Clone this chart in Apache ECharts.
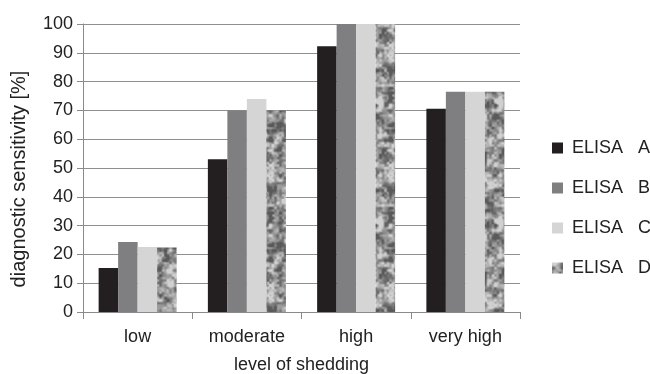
<!DOCTYPE html>
<html><head><meta charset="utf-8">
<script src="https://cdn.jsdelivr.net/npm/echarts@6/dist/echarts.min.js"></script>
<style>html,body{margin:0;padding:0;background:#fff}#c{width:650px;height:374px}</style>
</head><body><div id="c"></div>
<script>
const categories = ['low', 'moderate', 'high', 'very high'];
const seriesNames = ['ELISA   A', 'ELISA   B', 'ELISA   C', 'ELISA   D'];
const elisaA = [15.3, 53, 92.3, 70.6];
const elisaB = [24.3, 70, 100, 76.5];
const elisaC = [22.6, 74, 100, 76.5];
const elisaD = [22.4, 70, 100, 76.5];
const yTicks = [0, 10, 20, 30, 40, 50, 60, 70, 80, 90, 100];

// deterministic mottled grey texture for ELISA D (styling only)
function makeTexture() {
  const N = 120;
  const mkHash = (G, a, b, m) => (i, j) => {
    i = ((i % G) + G) % G; j = ((j % G) + G) % G;
    const s = Math.sin(i * a + j * b) * m;
    return s - Math.floor(s);
  };
  const noise = (x, y, c, hf) => {
    const i = Math.floor(x / c), j = Math.floor(y / c);
    const fx = x / c - i, fy = y / c - j;
    const sx = fx * fx * (3 - 2 * fx), sy = fy * fy * (3 - 2 * fy);
    const a = hf(i, j), b = hf(i + 1, j), cc = hf(i, j + 1), d = hf(i + 1, j + 1);
    return a + (b - a) * sx + (cc - a) * sy + (a - b - cc + d) * sx * sy;
  };
  const h1 = mkHash(N / 5, 127.1, 311.7, 43758.5453);
  const h2 = mkHash(N / 2.5, 269.5, 183.3, 24634.6345);
  const h3 = mkHash(N / 10, 419.2, 371.9, 17351.331);
  const cv = document.createElement('canvas');
  cv.width = N; cv.height = N;
  const ctx = cv.getContext('2d');
  const img = ctx.createImageData(N, N);
  for (let y = 0; y < N; y++) {
    for (let x = 0; x < N; x++) {
      const n = 0.3 * noise(x, y, 10, h3) + 0.4 * noise(x, y, 5, h1) + 0.3 * noise(x, y, 2.5, h2);
      const t = Math.max(0, Math.min(1, (n - 0.3) / 0.4));
      const v = 208 - t * 118;
      const k = (y * N + x) * 4;
      img.data[k] = v; img.data[k + 1] = v; img.data[k + 2] = v; img.data[k + 3] = 255;
    }
  }
  ctx.putImageData(img, 0, 0);
  return cv;
}
const texture = makeTexture();

const FONT = 'Liberation Sans, Arial, sans-serif';
const colors = ['#231f20', '#7f7f81', '#d5d5d6', {image: texture, repeat: 'repeat'}];
const dataSets = [elisaA, elisaB, elisaC, elisaD];

const chart = echarts.init(document.getElementById('c'), null, {renderer: 'canvas'});
chart.setOption({
  animation: false,
  textStyle: {fontFamily: FONT},
  grid: {left: 83, right: 130, top: 24, bottom: 62, outerBoundsMode: 'none', containLabel: false},
  legend: {
    orient: 'vertical', left: 552, top: 139, itemGap: 22, padding: 0,
    itemWidth: 11, itemHeight: 11, icon: 'rect',
    textStyle: {fontSize: 18, color: '#222', fontFamily: FONT, padding: [0, 0, 0, 4]},
    data: seriesNames
  },
  xAxis: {
    type: 'category', data: categories,
    name: 'level of shedding', nameLocation: 'middle', nameGap: 44,
    nameTextStyle: {fontSize: 18, color: '#222'},
    axisLine: {lineStyle: {color: '#8a8a8a'}},
    axisTick: {show: true, length: 7, lineStyle: {color: '#8a8a8a'}},
    axisLabel: {fontSize: 18, color: '#222', margin: 16}
  },
  yAxis: {
    type: 'value', min: 0, max: 100, interval: 10,
    name: 'diagnostic sensitivity [%]', nameLocation: 'middle', nameGap: 54,
    nameTextStyle: {fontSize: 20, color: '#222', padding: [0, 22, 0, 0]},
    axisLine: {show: true, lineStyle: {color: '#8a8a8a'}},
    axisTick: {show: true, length: 6, lineStyle: {color: '#8a8a8a'}},
    axisLabel: {fontSize: 18, color: '#222', margin: 10,
      formatter: v => yTicks.includes(v) ? String(v) : ''},
    splitLine: {lineStyle: {color: '#8f8f8f'}}
  },
  series: seriesNames.map((n, i) => ({
    name: n, type: 'bar', data: dataSets[i],
    barGap: '0%', barCategoryGap: '28.6%',
    itemStyle: {color: colors[i]}
  }))
});
</script></body></html>
